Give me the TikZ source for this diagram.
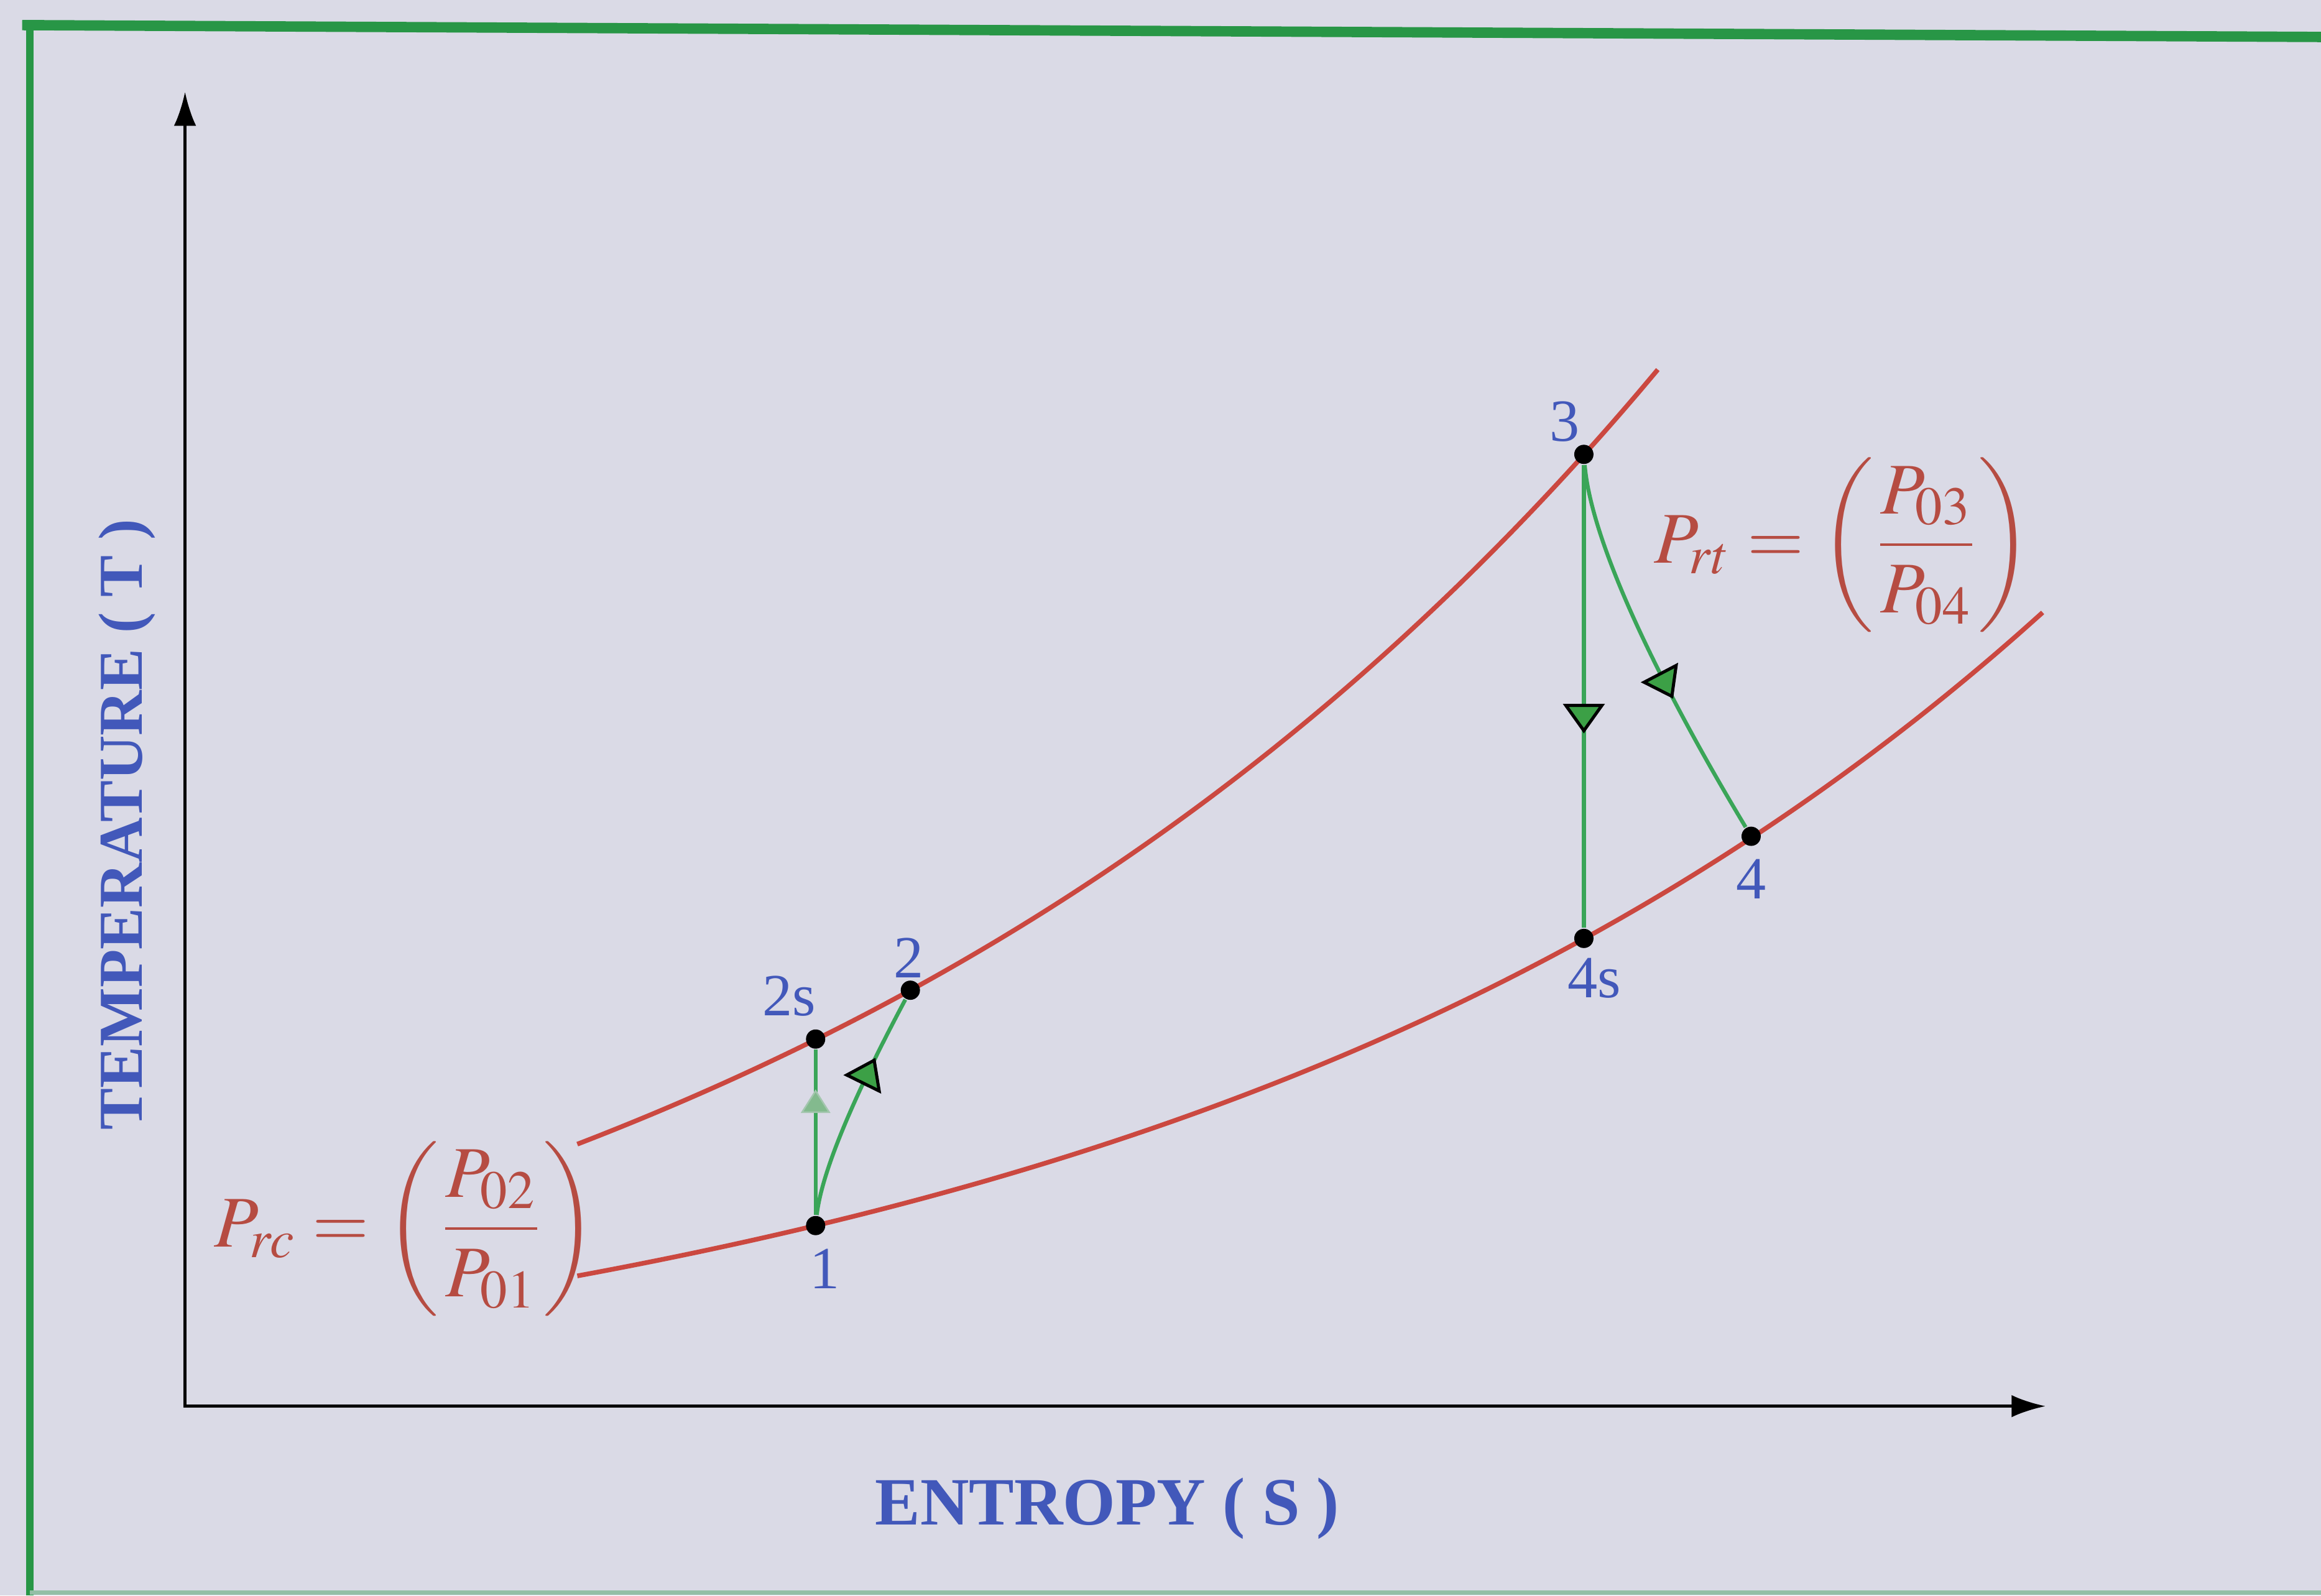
\documentclass[tikz,border=0pt]{standalone}
\usepackage{amsmath}
\usepackage{mathptmx}
\usepackage[no-math]{fontspec}
\setmainfont{Liberation Serif}
\usetikzlibrary{arrows.meta,decorations.markings}
\definecolor{bgcol}{RGB}{218,218,230}
\definecolor{framegreen}{RGB}{40,150,70}
\definecolor{curvered}{RGB}{203,72,64}
\definecolor{formulared}{RGB}{182,76,66}
\definecolor{labelblue}{RGB}{66,88,186}
\definecolor{linegreen}{RGB}{58,165,88}
\definecolor{tipgreen}{RGB}{60,160,70}

\tikzset{
  statept/.style={circle, fill=black, inner sep=0pt, minimum size=0.13cm},
  ptlabel/.style={text=labelblue, font=\fontsize{11.5}{13}\selectfont, inner sep=0pt},
  axislabel/.style={text=labelblue, font=\fontsize{13}{15}\selectfont\bfseries, inner sep=0pt},
  ratio/.style={text=formulared, font=\fontsize{14}{17}\selectfont, inner sep=0pt},
  curve/.style={curvered, line width=0.9pt},
  process/.style={linegreen, line width=0.75pt},
  midtip/.style={postaction={decorate}, decoration={markings,
    mark=at position #1 with {\arrow{Triangle[length=2.0mm,width=2.8mm,fill=tipgreen,color=black,line width=0.6pt]}}}},
  fadetip/.style={postaction={decorate}, decoration={markings,
    mark=at position #1 with {\arrow{Triangle[length=1.6mm,width=2.0mm,fill=tipgreen!55!bgcol,color=tipgreen!35!bgcol,line width=0.3pt]}}}}
}

\begin{document}
\begin{tikzpicture}[>={Latex[length=2.3mm,width=1.5mm]}]
  \useasboundingbox (0,0) rectangle (15.68,10.78);
  \fill[bgcol] (0,0) rectangle (15.68,10.78);
  % frame
  \draw[framegreen, line width=0.05cm] (0.20,0) -- (0.20,10.60);
  \draw[framegreen, line width=0.07cm] (0.15,10.61) -- (15.68,10.53);
  \draw[framegreen!40!bgcol, line width=0.03cm] (0.20,0.02) -- (15.68,0.02);
  % axes
  \coordinate (origin) at (1.25,1.28);
  \coordinate (ytip) at (1.25,10.16);
  \coordinate (xtip) at (13.82,1.28);
  \draw[<->, line width=0.6pt] (ytip) -- (origin) -- (xtip);
  \node[axislabel, rotate=90, font=\fontsize{12}{14}\selectfont\bfseries] (tlab) at (0.86,5.21) {TEMPERATURE ( T )};
  \node[axislabel] (slab) at (7.48,0.59) {ENTROPY ( S )};
  % constant pressure lines
  \draw[curve] plot[domain=3.9:11.2, samples=60, smooth] (\x,{3.05+2.492*(exp(0.155*(\x-3.9))-1)});
  \draw[curve] plot[domain=3.9:13.8, samples=60, smooth] (\x,{2.16+1.157*(exp(0.16*(\x-3.9))-1)});
  % pressure ratios
  \node[ratio] (prc) at (2.74,2.48) {$P_{rc}=\left(\dfrac{P_{02}}{P_{01}}\right)$};
  \node[ratio] (prt) at (12.45,7.10) {$P_{rt}=\left(\dfrac{P_{03}}{P_{04}}\right)$};
  % state points
  \node[statept] (p1) at (5.51,2.50) {};
  \node[statept] (p2s) at (5.51,3.76) {};
  \node[statept] (p2) at (6.15,4.09) {};
  \node[statept] (p3) at (10.70,7.71) {};
  \node[statept] (p4s) at (10.70,4.44) {};
  \node[statept] (p4) at (11.83,5.13) {};
  % compression and expansion
  \draw[process, fadetip=0.76] (p1) -- (p2s);
  \draw[process, midtip=0.72] (p1) .. controls (5.56,2.95) and (5.915,3.65) .. (p2);
  \draw[process, midtip=0.58] (p3) -- (p4s);
  \draw[process, midtip=0.63] (p3) .. controls (10.75,7.11) and (11.21,6.16) .. (p4);
  % point labels
  \node[ptlabel] (l1) at (5.57,2.21) {1};
  \node[ptlabel] (l2s) at (5.33,4.05) {2s};
  \node[ptlabel] (l2) at (6.14,4.31) {2};
  \node[ptlabel] (l3) at (10.57,7.93) {3};
  \node[ptlabel] (l4s) at (10.77,4.17) {4s};
  \node[ptlabel] (l4) at (11.83,4.84) {4};
\end{tikzpicture}
\end{document}
